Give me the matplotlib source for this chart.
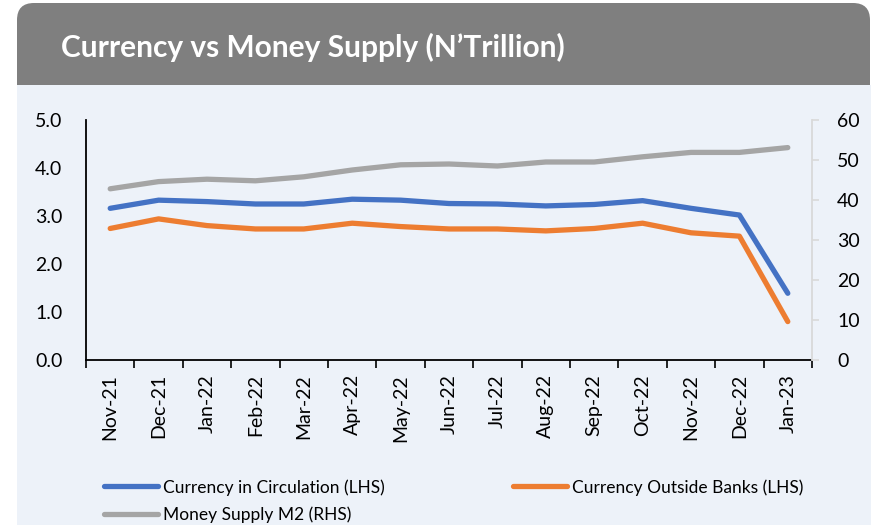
import numpy as np
import matplotlib.pyplot as plt
from matplotlib.patches import FancyBboxPatch, Rectangle

plt.rcParams['font.family'] = ['Lato', 'DejaVu Sans']

months = ['Nov-21', 'Dec-21', 'Jan-22', 'Feb-22', 'Mar-22', 'Apr-22', 'May-22',
          'Jun-22', 'Jul-22', 'Aug-22', 'Sep-22', 'Oct-22', 'Nov-22', 'Dec-22', 'Jan-23']
circulation = [3.16, 3.33, 3.30, 3.25, 3.25, 3.35, 3.33, 3.26, 3.25, 3.21, 3.24, 3.32, 3.16, 3.02, 1.39]
outside_banks = [2.74, 2.94, 2.80, 2.73, 2.73, 2.85, 2.78, 2.73, 2.73, 2.69, 2.74, 2.85, 2.65, 2.58, 0.80]
m2 = [42.8, 44.6, 45.2, 44.8, 45.8, 47.5, 48.8, 49.0, 48.5, 49.5, 49.5, 50.8, 51.9, 51.9, 53.1]

blue = '#4472C4'
orange = '#ED7D31'
grey = '#A5A5A5'
bg = '#EDF2F9'

W, H = 871, 525
fig = plt.figure(figsize=(W / 100, H / 100), dpi=100)

# background panel in pixel units
bg_ax = fig.add_axes([0, 0, 1, 1])
bg_ax.set_xlim(0, W)
bg_ax.set_ylim(H, 0)
bg_ax.axis('off')
bg_ax.add_patch(FancyBboxPatch((17, 3), 853, 120, boxstyle='round,pad=0,rounding_size=17',
                               fc='#7F7F7F', ec='none'))
bg_ax.add_patch(Rectangle((17, 85), 854, 440, fc=bg, ec='none'))
bg_ax.text(61, 47, 'Currency vs Money Supply (N\u2019Trillion)', color='white',
           fontsize=21.5, fontweight='bold', va='center', ha='left')

ax = fig.add_axes([86 / W, 1 - 360 / H, 726 / W, 240 / H])
ax.set_facecolor('none')
x = np.arange(len(months))

l1, = ax.plot(x, circulation, color=blue, lw=3.8, solid_capstyle='round', solid_joinstyle='round')
l2, = ax.plot(x, outside_banks, color=orange, lw=3.8, solid_capstyle='round', solid_joinstyle='round')
ax.set_ylim(0, 5)
ax.set_xlim(-0.5, len(months) - 0.5)
ax.set_yticks(np.arange(0, 5.1, 1))
ax.set_yticklabels([f'{v:.1f}' for v in np.arange(0, 5.1, 1)])
ax.set_xticks(x)
ax.set_xticklabels(months, rotation=90)
ax.set_xticks(np.arange(-0.5, len(months), 1), minor=True)
ax.tick_params(axis='x', which='major', length=0, pad=10, labelsize=14)
ax.tick_params(axis='x', which='minor', length=6, width=1.2, color='black')
ax.tick_params(axis='y', length=0, pad=17, labelsize=14)
for s in ['top', 'right']:
    ax.spines[s].set_visible(False)
ax.spines['left'].set_linewidth(1.3)
ax.spines['bottom'].set_linewidth(1.3)

ax2 = ax.twinx()
l3, = ax2.plot(x, m2, color=grey, lw=3.8, solid_capstyle='round', solid_joinstyle='round')
ax2.set_ylim(0, 60)
ax2.set_yticks(np.arange(0, 61, 10))
ax2.tick_params(axis='y', which='major', length=5, width=1.2, color='#D9D9D9', pad=13, labelsize=14)
for s in ['top', 'left', 'bottom']:
    ax2.spines[s].set_visible(False)
ax2.spines['right'].set_color('#D9D9D9')
ax2.spines['right'].set_linewidth(1.3)

# legend fills column-wise, so order items to read row by row
fig.legend([l1, l3, l2],
           ['Currency in Circulation (LHS)', 'Money Supply M2 (RHS)', 'Currency Outside Banks (LHS)'],
           loc='upper left', bbox_to_anchor=(104 / W, 1 - 479 / H), ncol=2,
           frameon=False, fontsize=12.5, handlelength=3.1, handletextpad=0.29,
           columnspacing=7.4, labelspacing=0.65, borderpad=0, borderaxespad=0)

fig.savefig('out.png', dpi=100, facecolor='white')
